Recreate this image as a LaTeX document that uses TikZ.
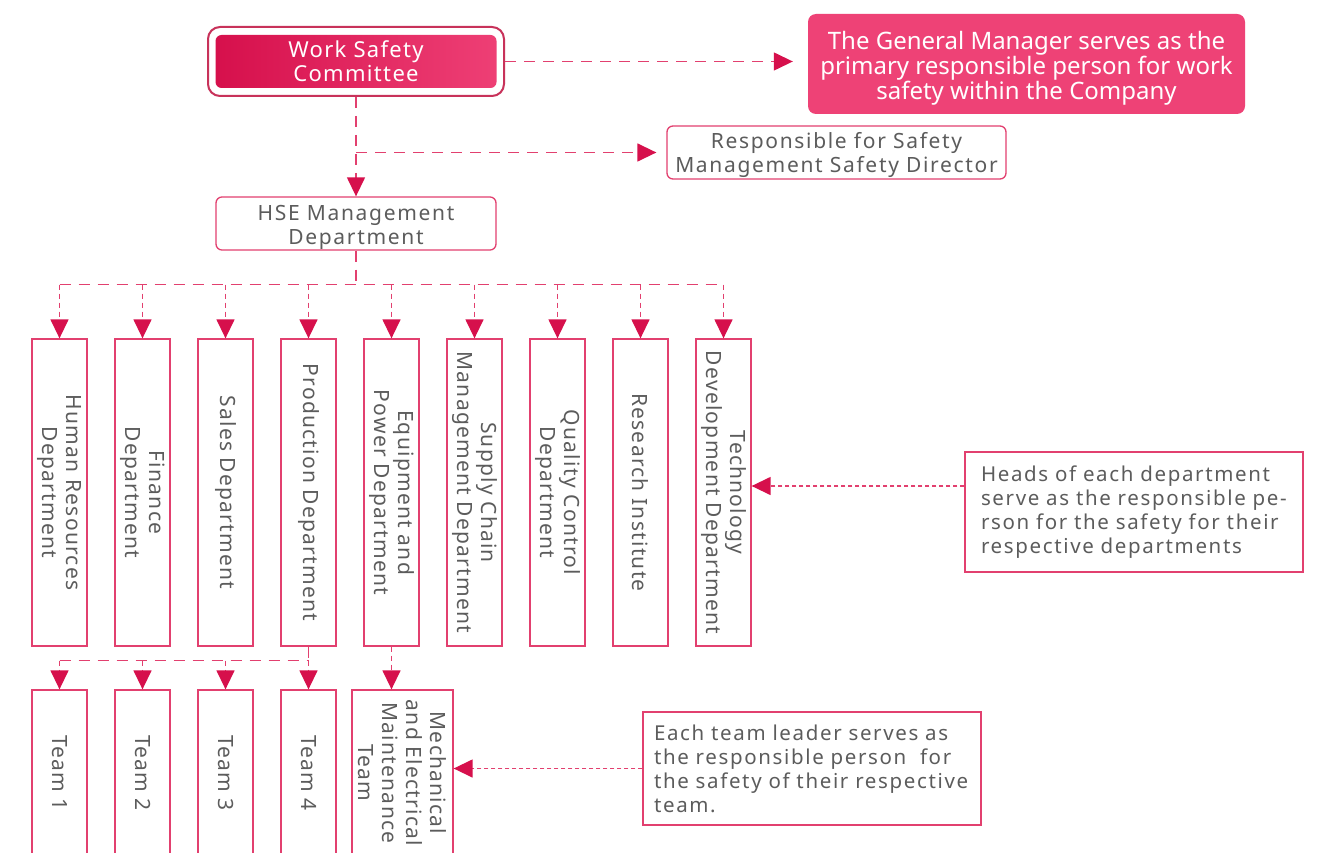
\documentclass[tikz,border=0pt]{standalone}
\usepackage{fontspec}
\setmainfont{Noto Sans}
\newfontfamily\wsSpaced[LetterSpace=6]{Noto Sans}
\newfontfamily\wsWide[LetterSpace=8]{Noto Sans}
\usetikzlibrary{arrows.meta,calc,positioning}
\definecolor{wsRed}{HTML}{D6104C}
\definecolor{wsRedDark}{HTML}{C8325A}
\definecolor{wsPink}{HTML}{EE4276}
\definecolor{wsPinkLight}{HTML}{EE3F75}
\definecolor{wsLine}{HTML}{E2406F}
\definecolor{wsGray}{HTML}{5C5C5C}

\begin{document}
\begin{tikzpicture}[x=1pt,y=-1pt,>={Triangle[length=19pt,width=18pt,color=wsRed]},line join=miter]
\useasboundingbox[fill=white] (0,0) rectangle (1325,853);
\tikzset{lift/.style={execute at begin node={\rule{0pt}{#1}}},box/.style={draw=wsLine,line width=1.3pt,fill=white,text=wsGray,font=\wsWide\fontsize{21}{24}\selectfont,align=center,inner sep=0pt},dept/.style={box,rotate=-90,minimum width=307pt,minimum height=55pt,font=\wsSpaced\fontsize{21}{24}\selectfont},team/.style={dept,minimum width=166pt},note/.style={box,align=left,text width=316pt,inner xsep=11pt,font=\wsWide\fontsize{20.5}{24}\selectfont},link/.style={draw=wsLine,line width=1.4pt,dash pattern=on 11pt off 8pt},drop/.style={draw=wsLine,line width=1.4pt,dash pattern=on 5pt off 4pt},dotlink/.style={draw=wsLine,line width=1.4pt,dash pattern=on 4pt off 3pt}}
% top level
\node[draw=wsRedDark,line width=2pt,rounded corners=12pt,minimum width=296pt,minimum height=69pt,inner sep=0pt] (wsc) at (356,61.5) {};
\node[rounded corners=6pt,left color=wsRed,right color=wsPinkLight,minimum width=281pt,minimum height=53pt,inner sep=0pt,text=white,font=\wsSpaced\fontsize{22}{24}\selectfont,align=center] (wscin) at (wsc.center) {Work Safety\\Committee};
\node[fill=wsPink,rounded corners=8pt,minimum width=437pt,minimum height=100pt,inner sep=0pt,text=white,font=\fontsize{24}{25}\selectfont,align=center,lift=76pt] (gm) at (1026.5,64) {The General Manager serves as the\\primary responsible person for work\\safety within the Company};
\node[box,rounded corners=6pt,minimum width=339pt,minimum height=53pt,lift=45pt] (resp) at (836.5,152.5) {Responsible for Safety\\Management Safety Director};
\node[box,rounded corners=6pt,minimum width=280pt,minimum height=53pt,lift=48pt] (hse) at (356,223.5) {HSE Management\\Department};
% departments
\node[dept] (dHR) at (59.5,492.5) {Human Resources\\Department}; \node[dept] (dFI) at (142.5,492.5) {Finance\\Department}; \node[dept] (dSA) at (225.5,492.5) {Sales Department};
\node[dept] (dPR) at (308.5,492.5) {Production Department}; \node[dept] (dEQ) at (391.5,492.5) {Equipment and\\Power Department}; \node[dept] (dSC) at (474.5,492.5) {Supply Chain\\Management Department};
\node[dept] (dQC) at (557.5,492.5) {Quality Control\\Department}; \node[dept] (dRI) at (640.5,492.5) {Research Institute}; \node[dept] (dTD) at (723.5,492.5) {Technology\\Development Department};
% teams
\node[team] (tm1) at (59.5,773) {Team 1}; \node[team] (tm2) at (142.5,773) {Team 2}; \node[team] (tm3) at (225.5,773) {Team 3}; \node[team] (tm4) at (308.5,773) {Team 4};
\node[team,minimum height=101pt] (mech) at (402.5,773) {Mechanical\\and Electrical\\Maintenance\\Team};
% notes
\node[note,text width=306pt,inner xsep=16pt,minimum height=120pt] (heads) at (1134,512) {Heads of each department\\serve as the responsible pe-\\rson for the safety for their\\respective departments};
\node[note,minimum height=113pt] (lead) at (812,768.5) {Each team leader serves as\\the responsible person~ for\\the safety of their respective\\team.};
% connectors
\draw[link,->,shorten >=15pt] (wsc.east) -- (wsc.east -| gm.west); \draw[link,->] (wsc.south) -- (hse.north); \draw[link,->,shorten >=10pt] (wsc.south |- resp.west) -- (resp.west);
\draw[link] (hse.south) -- ++(0,34) coordinate (hbus); \draw[link] (dHR.west |- hbus) -- (dTD.west |- hbus);
\draw[drop,->] (dHR.west |- hbus) -- (dHR.west); \draw[drop,->] (dFI.west |- hbus) -- (dFI.west); \draw[drop,->] (dSA.west |- hbus) -- (dSA.west);
\draw[drop,->] (dPR.west |- hbus) -- (dPR.west); \draw[drop,->] (dEQ.west |- hbus) -- (dEQ.west); \draw[drop,->] (dSC.west |- hbus) -- (dSC.west);
\draw[drop,->] (dQC.west |- hbus) -- (dQC.west); \draw[drop,->] (dRI.west |- hbus) -- (dRI.west); \draw[drop,->] (dTD.west |- hbus) -- (dTD.west);
\draw[link] (dPR.east) -- ++(0,14) coordinate (tbus); \draw[link] (tm1.west |- tbus) -- (tbus);
\draw[drop,->] (tm1.west |- tbus) -- (tm1.west); \draw[drop,->] (tm2.west |- tbus) -- (tm2.west); \draw[drop,->] (tm3.west |- tbus) -- (tm3.west); \draw[drop,->] (tbus) -- (tm4.west);
\draw[drop,->] (dEQ.east) -- (dEQ.east |- mech.west);
\coordinate (hd) at ([yshift=26pt]heads.west); \draw[dotlink,->] (hd) -- (dTD.north |- hd); \draw[dotlink,->] (lead.west) -- (mech.north |- lead.west);
\end{tikzpicture}
\end{document}
